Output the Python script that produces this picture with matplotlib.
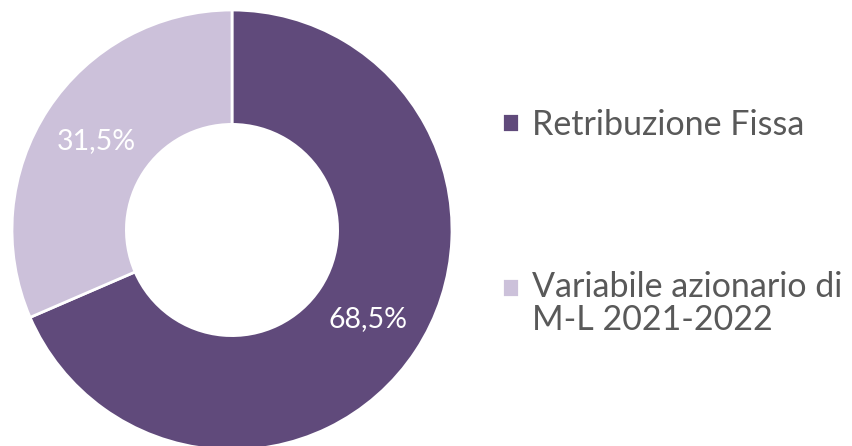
import matplotlib.pyplot as plt
from matplotlib.patches import Rectangle
from matplotlib.legend_handler import HandlerPatch

labels = ['Retribuzione Fissa', 'Variabile azionario di\nM-L 2021-2022']
values = [68.5, 31.5]
colors = ['#604A7B', '#CCC1DA']

plt.rcParams['font.family'] = ['Lato', 'DejaVu Sans']

fig = plt.figure(figsize=(8.53, 4.46), dpi=100)
# square axes holding the donut, in pixel terms: left 12, size 440
ax = fig.add_axes([12 / 853, -4 / 446, 440 / 853, 440 / 446])

wedges, texts, autotexts = ax.pie(
    values, colors=colors, startangle=90, counterclock=False,
    radius=1.0, pctdistance=0.74,
    autopct=lambda p: f'{p:.1f}%'.replace('.', ','),
    wedgeprops=dict(width=0.52, edgecolor='white', linewidth=2),
    textprops=dict(color='white', fontsize=20.5),
)
ax.set_xlim(-1, 1)
ax.set_ylim(-1, 1)
ax.set_aspect('equal')
ax.axis('off')


# legend square sits on the first line of a two-line label
def top_square(legend, orig_handle, xdescent, ydescent, width, height, fontsize):
    shift = 0
    if '\n' in orig_handle.get_label():
        shift = 12.5
    return Rectangle((-xdescent, -ydescent + shift), width, height)


for w, lab in zip(wedges, labels):
    w.set_label(lab)

leg = fig.legend(wedges, labels, loc='upper left', bbox_to_anchor=(471 / 853, 1 - 78 / 446),
                 frameon=False, fontsize=24.5, labelcolor='#595959',
                 handlelength=0.5, handleheight=0.5, handletextpad=0.4,
                 labelspacing=3.84,
                 handler_map={w: HandlerPatch(patch_func=top_square) for w in wedges})
for t in leg.get_texts():
    t.set_linespacing(1.03)

fig.savefig('out.png', dpi=100)
